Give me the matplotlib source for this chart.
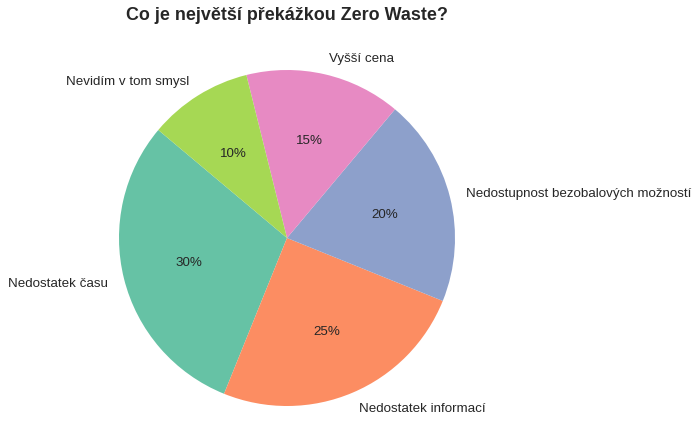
import matplotlib
matplotlib.use("Agg")
import matplotlib.pyplot as plt

labels = ["Nedostatek času", "Nedostatek informací", "Nedostupnost bezobalových možností",
          "Vyšší cena", "Nevidím v tom smysl"]
values = [30, 25, 20, 15, 10]
colors = ["#66c2a5", "#fc8d62", "#8da0cb", "#e78ac3", "#a6d854"]
title = "Co je největší překážkou Zero Waste?"

plt.rcParams['font.family'] = ['Liberation Sans', 'DejaVu Sans']
plt.rcParams['text.color'] = '#262626'

fig = plt.figure(figsize=(7, 4.31), dpi=100)
ax = fig.add_axes([77/700, -18/431, 420/700, 420/431])
wedges, texts, autotexts = ax.pie(values, labels=labels, colors=colors, startangle=140,
                                  autopct='%1.0f%%', textprops={'fontsize': 9.65, 'color': '#262626'})
for t in autotexts:
    t.set_fontsize(9.65)
ax.set_aspect('equal')
ax.set_xlim(-1.25, 1.25)
ax.set_ylim(-1.25, 1.25)
fig.text(287/700, 1 - 15/431, title, ha='center', va='center', fontsize=12.85, fontweight='bold',
         color='#262626')
fig.savefig("out.png", dpi=100)
